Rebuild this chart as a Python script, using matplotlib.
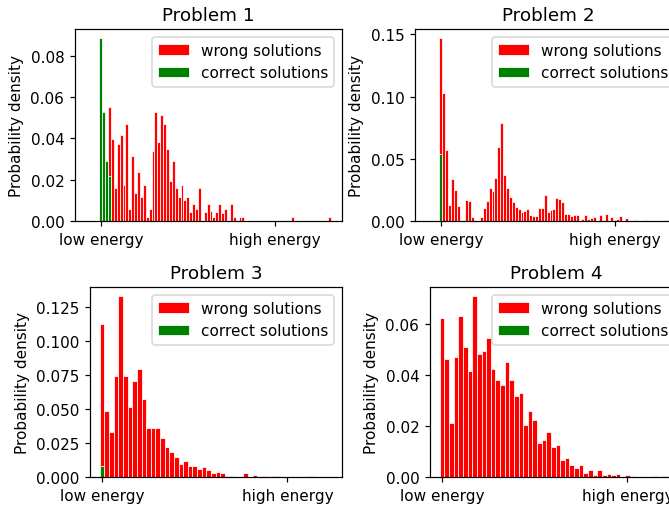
import numpy as np
import matplotlib
matplotlib.use("Agg")
import matplotlib.pyplot as plt

titles = ["Problem 1", "Problem 2", "Problem 3", "Problem 4"]
tick_labels = ["low energy", "high energy"]
legend_labels = ["wrong solutions", "correct solutions"]

p1_wrong = [0, 0, 0, 0.0553, 0.0399, 0.016, 0.0374, 0.0415, 0.0176, 0.0472,
            0.006, 0.0316, 0.0138, 0.0236, 0.0114, 0.0176, 0.002, 0.006, 0.0338, 0.0529,
            0.0382, 0.0516, 0.0472, 0.035, 0.0195, 0.0293, 0.016, 0.0114, 0.0176, 0.0104,
            0.0114, 0.0042, 0.008, 0.006, 0.016, 0, 0.0042, 0.008, 0.005, 0.002,
            0.0042, 0.008, 0.004, 0.006, 0, 0.008, 0.002, 0, 0.002, 0.002,
            0, 0, 0, 0, 0, 0, 0, 0, 0, 0,
            0, 0, 0, 0, 0, 0, 0.0017, 0, 0, 0,
            0, 0, 0, 0, 0, 0, 0, 0, 0, 0.0017]
p1_correct = [0.0886, 0.0529, 0.0293, 0.022]

p2_wrong = [0.147, 0.1027, 0.0573, 0.013, 0.0338, 0.0249, 0.0122, 0, 0, 0.017,
            0.0157, 0.003, 0, 0, 0.003, 0.0103, 0.016, 0.0262, 0.0238, 0.0346,
            0.0595, 0.0784, 0.0373, 0.0265, 0.019, 0.015, 0.011, 0.0095, 0.0075, 0.008,
            0.01, 0.005, 0.004, 0.004, 0.0108, 0.0108, 0.021, 0.0073, 0.0086, 0.01,
            0.0186, 0.0176, 0.015, 0.006, 0.006, 0.004, 0.0046, 0.0046, 0, 0.0014,
            0.0046, 0.0014, 0.0024, 0.003, 0, 0.005, 0, 0.006, 0, 0.003,
            0.001, 0.0014, 0.004, 0, 0.0024, 0, 0, 0.001, 0, 0,
            0, 0.001, 0, 0, 0, 0, 0, 0, 0.0005]
p2_correct = [0.0535]

p3_wrong = [0.112, 0.0482, 0.0331, 0.0743, 0.1328, 0.0743, 0.0514, 0.0707, 0.0794, 0.0573,
            0.036, 0.036, 0.036, 0.0285, 0.0222, 0.018, 0.0146, 0.0093, 0.0117, 0.008,
            0.008, 0.0056, 0.0073, 0.0049, 0.0032, 0.004, 0.0032, 0.0007, 0.0007, 0,
            0, 0.0032, 0, 0.0015, 0, 0.0007, 0, 0.0007, 0.0007, 0,
            0, 0, 0, 0, 0, 0.0007]
p3_correct = [0.008]

p4_wrong = [0.0625, 0.0464, 0.021, 0.0469, 0.0633, 0.0512, 0.0417, 0.071, 0.0482, 0.0495,
            0.0547, 0.0424, 0.0381, 0.0362, 0.045, 0.0381, 0.0316, 0.0329, 0.0203, 0.026,
            0.0223, 0.0132, 0.0145, 0.0176, 0.0118, 0.0124, 0.0065, 0.0073, 0.0047, 0.0034,
            0.0047, 0.0017, 0.0026, 0.0008, 0.0026, 0.0008, 0.0013, 0.0008, 0.0013, 0,
            0.0008, 0.0003, 0, 0, 0, 0, 0.0003, 0, 0.0003]
p4_correct = [0.0]

wrong = [p1_wrong, p2_wrong, p3_wrong, p4_wrong]
correct = [p1_correct, p2_correct, p3_correct, p4_correct]

W, H = 669, 506
DPI = 110
fig = plt.figure(figsize=(W / DPI, H / DPI), dpi=DPI)


def add_ax(l, r, t, b):
    return fig.add_axes([l / W, 1 - b / H, (r - l) / W, (b - t) / H])


axes = [add_ax(75, 342, 30, 222), add_ax(415, 682, 30, 222),
        add_ax(90, 342, 288, 478), add_ax(430, 682, 288, 478)]
xlims = [(-8.9, 83.17), (-8.9, 83.17), (-2.63, 51.8), (-2.63, 51.8)]
xticks = [[0, 60], [0, 60], [0, 40], [0, 40]]

for i, ax in enumerate(axes):
    w = np.array(wrong[i])
    c = np.array(correct[i])
    ax.bar(np.arange(len(w)), w, width=1.0, color="red", edgecolor="white",
           linewidth=0.5, label=legend_labels[0])
    ax.bar(np.arange(len(c)), c, width=1.0, color="green", edgecolor="white",
           linewidth=0.5, label=legend_labels[1])
    ax.set_xlim(*xlims[i])
    ax.set_xticks(xticks[i])
    ax.set_xticklabels(tick_labels)
    ax.set_ylabel("Probability density")
    ax.set_title(titles[i])
    ax.legend(loc="upper right")

fig.savefig("out.png", dpi=DPI)
